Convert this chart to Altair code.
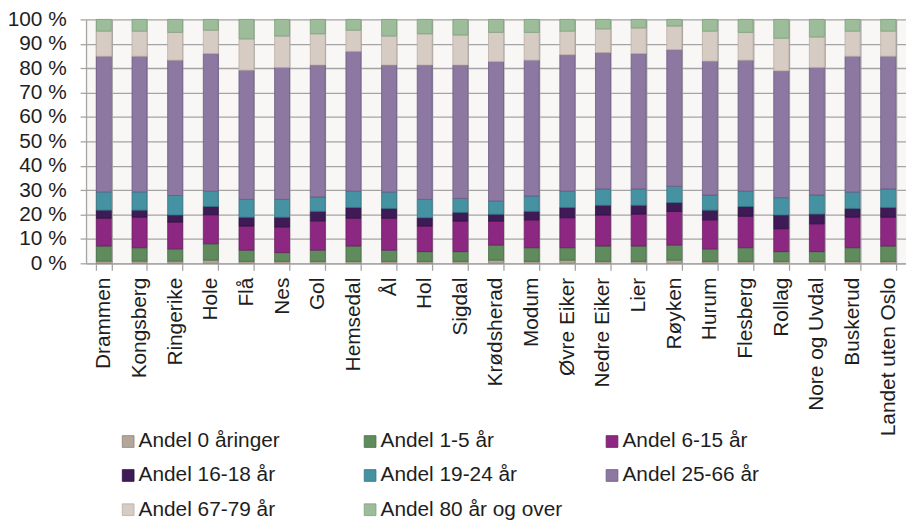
import altair as alt
import pandas as pd

kommuner = ["Drammen", "Kongsberg", "Ringerike", "Hole", "Flå", "Nes", "Gol",
            "Hemsedal", "Ål", "Hol", "Sigdal", "Krødsherad", "Modum", "Øvre Eiker",
            "Nedre Eiker", "Lier", "Røyken", "Hurum", "Flesberg", "Rollag",
            "Nore og Uvdal", "Buskerud", "Landet uten Oslo"]

serier = ["Andel 0 åringer", "Andel 1-5 år", "Andel 6-15 år", "Andel 16-18 år",
          "Andel 19-24 år", "Andel 25-66 år", "Andel 67-79 år", "Andel 80 år og over"]

andel_0 = [0.9, 0.9, 0.9, 1.3, 0.8, 0.8, 0.8, 0.8, 0.8, 0.8, 0.8, 1.3, 0.8, 1.3,
           0.8, 0.8, 1.3, 0.8, 0.8, 0.8, 0.8, 0.8, 0.8]
andel_1_5 = [6.2, 5.5, 5.0, 6.7, 4.6, 3.6, 4.6, 6.3, 4.6, 4.0, 4.0, 6.2, 5.6, 5.1,
             6.3, 6.3, 6.2, 5.1, 5.6, 4.0, 4.0, 5.6, 6.3]
andel_6_15 = [11.4, 12.5, 11.0, 11.9, 9.9, 10.5, 12.0, 11.4, 13.1, 10.5, 12.5, 9.8,
              11.4, 12.3, 12.7, 13.1, 13.8, 11.9, 12.9, 9.4, 11.4, 12.5, 11.8]
andel_16_18 = [3.3, 2.9, 2.9, 3.4, 3.6, 4.0, 3.9, 4.4, 4.0, 3.4, 3.6, 2.8, 3.5, 4.2,
               4.0, 3.6, 3.6, 4.0, 4.0, 5.6, 4.0, 3.6, 4.0]
andel_19_24 = [7.5, 7.5, 8.0, 6.3, 7.3, 7.3, 5.9, 6.7, 6.7, 7.5, 5.7, 5.5, 6.3, 6.7,
               6.7, 6.7, 6.7, 6.2, 6.3, 7.1, 7.8, 6.7, 7.6]
andel_25_66 = [55.6, 55.6, 55.5, 56.4, 53.0, 54.1, 54.1, 57.3, 52.1, 55.1, 54.7, 57.1,
               55.7, 55.9, 55.9, 55.5, 56.0, 54.9, 53.7, 52.0, 52.3, 55.7, 54.4]
andel_67_79 = [10.3, 10.3, 11.4, 9.6, 12.8, 12.9, 12.8, 8.7, 11.9, 12.8, 12.3, 12.0,
               11.4, 9.7, 9.7, 10.5, 9.7, 12.3, 11.4, 13.4, 12.5, 10.3, 10.3]
andel_80 = [4.8, 4.8, 5.3, 4.4, 8.0, 6.8, 5.9, 4.4, 6.8, 5.9, 6.4, 5.3, 5.3, 4.8,
            3.9, 3.5, 2.7, 4.8, 5.3, 7.7, 7.2, 4.8, 4.8]

verdier = [andel_0, andel_1_5, andel_6_15, andel_16_18, andel_19_24,
           andel_25_66, andel_67_79, andel_80]

fyll = ["#b3a69a", "#5f8b5d", "#8c2881", "#3e1b57", "#4592a3", "#8c78a1",
        "#d7ccc3", "#9dbc9a"]
strek = ["#8f8276", "#466f45", "#6b1d63", "#28103b", "#347383", "#6b5985",
         "#b9ada3", "#7e9f7b"]

rows = []
for i, (s, vals) in enumerate(zip(serier, verdier)):
    for k, v in zip(kommuner, vals):
        rows.append({"kommune": k, "serie": s, "idx": i, "verdi": v})
df = pd.DataFrame(rows)

FONT = "Liberation Sans"
GRID = "#a4a4a4"

chart = alt.Chart(df).mark_bar(strokeWidth=0.8).encode(
    x=alt.X("kommune:N", sort=kommuner,
            scale=alt.Scale(paddingInner=0.58, paddingOuter=0.29),
            axis=alt.Axis(title=None, labelAngle=-90, tickBand="extent", grid=True,
                          gridColor=GRID, gridWidth=1.3, domainColor=GRID,
                          domainWidth=1.3, tickColor=GRID, tickWidth=1.3, tickSize=7,
                          labelPadding=7, labelFont=FONT, labelFontSize=21,
                          labelColor="#1e1e1e", labelLimit=300)),
    y=alt.Y("verdi:Q", stack="normalize", scale=alt.Scale(domain=[0, 1]),
            axis=alt.Axis(title=None, values=[i / 10 for i in range(11)],
                          labelExpr="round(datum.value*100) + ' %'",
                          grid=True, gridColor=GRID, gridWidth=1.3,
                          domainColor=GRID, domainWidth=1.3, tickColor=GRID,
                          tickWidth=1.3, tickSize=6, labelPadding=14,
                          labelFont=FONT, labelFontSize=21, labelColor="#1e1e1e")),
    color=alt.Color("serie:N", sort=serier,
                    scale=alt.Scale(domain=serier, range=fyll),
                    legend=alt.Legend(title=None, orient="none", legendX=32,
                                      legendY=415, direction="horizontal",
                                      columns=3, gridAlign="all",
                                      symbolType="square", symbolSize=140,
                                      symbolStrokeWidth=0.8,
                                      labelFont=FONT, labelFontSize=21,
                                      labelColor="#1e1e1e", labelOffset=0,
                                      columnPadding=39, rowPadding=12.5,
                                      labelLimit=400)),
    stroke=alt.Stroke("serie:N", scale=alt.Scale(domain=serier, range=strek),
                      legend=None),
    order=alt.Order("idx:Q", sort="ascending"),
).properties(
    width=827, height=246,
    autosize=alt.AutoSizeParams(type="none"),
    padding={"left": 78.7, "top": 9.3, "right": 0, "bottom": 259},
).configure_view(fill="#f8f7f5", strokeWidth=0)

chart.save("out.html", embed_options={"renderer": "svg", "actions": False})
